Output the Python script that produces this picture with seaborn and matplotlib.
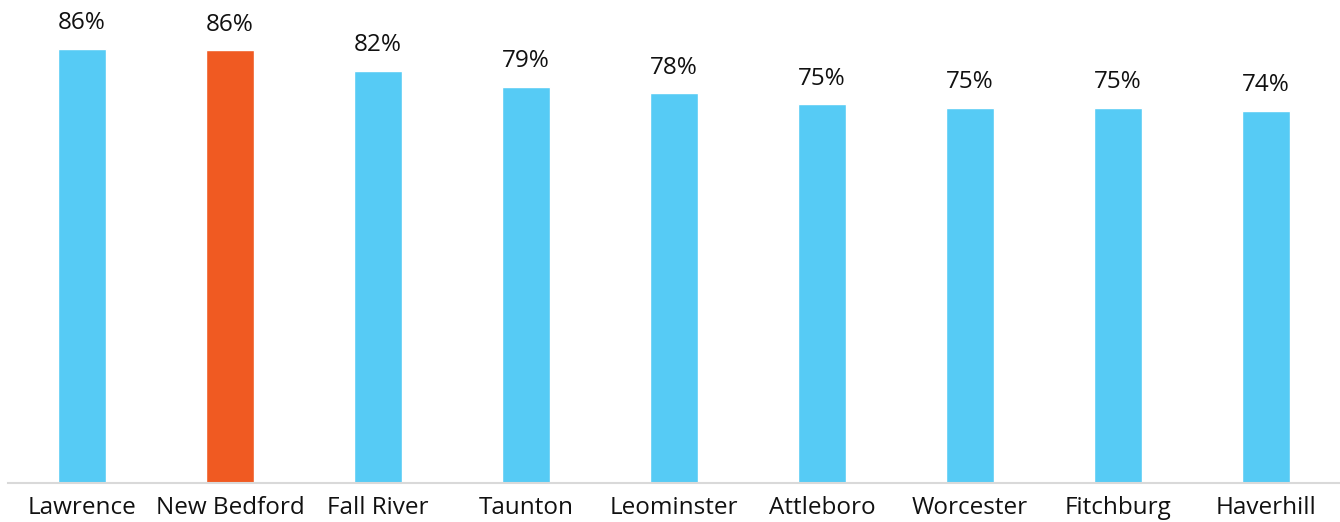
import pandas as pd
import seaborn as sns
import matplotlib.pyplot as plt

cities = ['Lawrence', 'New Bedford', 'Fall River', 'Taunton', 'Leominster',
          'Attleboro', 'Worcester', 'Fitchburg', 'Haverhill']
values = [86.0, 85.7, 81.6, 78.4, 77.2, 75.0, 74.3, 74.3, 73.7]
labels = ['86%', '86%', '82%', '79%', '78%', '75%', '75%', '75%', '74%']
highlight = 'New Bedford'

df = pd.DataFrame({'city': cities, 'value': values})
df['group'] = ['hl' if c == highlight else 'base' for c in cities]

sns.set_style('white')
plt.rcParams['font.family'] = ['Open Sans', 'DejaVu Sans']

fig = plt.figure(figsize=(13.4, 5.22), dpi=100)
ax = fig.add_axes([0.006, 0.0747, 0.994, 0.9253])

sns.barplot(data=df, x='city', y='value', hue='group',
            palette={'base': '#56CBF5', 'hl': '#F05A22'},
            width=0.32, dodge=False, legend=False, ax=ax, saturation=1)

# percent labels above bars
for i, (v, t) in enumerate(zip(values, labels)):
    ax.annotate(t, (i, v), xytext=(0, 14), textcoords='offset points',
                ha='center', va='baseline', fontsize=17.5, color='#111111')

ax.set_ylim(0, 95.6)
ax.set_xlim(-0.5, len(cities) - 0.5)
ax.set_xlabel('')
ax.set_ylabel('')
ax.set_yticks([])
ax.tick_params(axis='x', length=0, pad=9, labelsize=17.5, labelcolor='#111111')
for s in ['top', 'right', 'left']:
    ax.spines[s].set_visible(False)
ax.spines['bottom'].set_color('#D9D9D9')
ax.spines['bottom'].set_linewidth(1.5)

fig.savefig('out.png', dpi=100)
